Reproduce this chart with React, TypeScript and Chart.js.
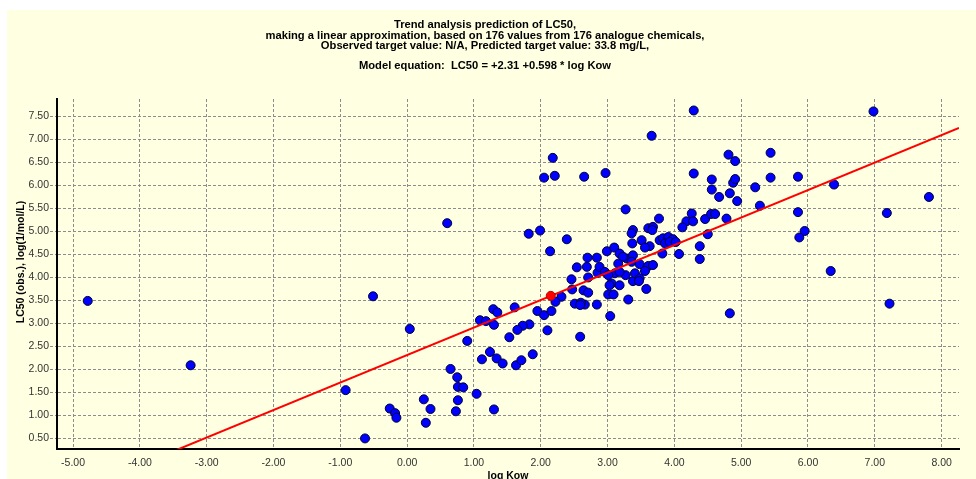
import React, { useEffect, useRef } from "react";
import { Chart, registerables } from "chart.js";

Chart.register(...registerables);

const TITLE_LINES = [
  "Trend analysis prediction of LC50,",
  "making a linear approximation, based on 176 values from 176 analogue chemicals,",
  "Observed target value: N/A, Predicted target value: 33.8 mg/L,",
];
const EQUATION = "Model equation:  LC50 = +2.31 +0.598 * log Kow";
const X_TITLE = "log Kow";
const Y_TITLE = "LC50 (obs.), log(1/mol/L)";

const X_TICKS = [-5, -4, -3, -2, -1, 0, 1, 2, 3, 4, 5, 6, 7, 8];
const Y_TICKS = [0.5, 1, 1.5, 2, 2.5, 3, 3.5, 4, 4.5, 5, 5.5, 6, 6.5, 7, 7.5];
const X_MIN = -5.24;
const X_MAX = 8.26;
const Y_MIN = 0.27;
const Y_MAX = 7.88;

const LOG_KOW = [
  -4.78, -3.24, -0.92, -0.51, -0.63, 0.04, -0.26, -0.18, -0.16, 0.25,
  0.35, 0.28, 0.65, 0.75, 0.76, 0.84, 0.76, 0.73, 0.9, 1.09,
  1.04, 1.12, 0.6, 2.18, 2.05, 2.21, 1.82, 1.99, 2.39, 2.14,
  2.54, 2.46, 2.47, 2.31, 2.22, 2.51, 1.95, 2.05, 2.16, 1.29,
  1.35, 1.61, 1.18, 1.3, 1.83, 1.73, 1.65, 1.53, 2.1, 2.59,
  1.24, 1.34, 1.43, 1.63, 1.71, 1.88, 1.3, 2.65, 2.97, 3.27,
  3.38, 3.37, 2.99, 3.1, 2.7, 2.84, 2.69, 3.18, 3.29, 2.71,
  2.85, 3.06, 3.18, 3.27, 3.38, 2.64, 2.71, 3.01, 3.09, 2.66,
  2.84, 3.31, 2.6, 3.04, 3.66, 4.81, 4.91, 4.29, 4.56, 4.56,
  4.67, 4.83, 4.88, 4.91, 4.94, 5.21, 5.28, 4.26, 4.18, 4.28,
  4.12, 4.46, 4.55, 4.61, 4.78, 3.77, 3.61, 3.68, 3.67, 3.51,
  3.63, 3.78, 3.83, 3.91, 3.98, 3.86, 3.93, 4.02, 3.82, 4.07,
  4.5, 4.38, 4.38, 3.36, 3.38, 3.56, 3.36, 3.48, 3.61, 3.68,
  3.56, 3.41, 3.48, 3.47, 3.58, 4.83, 3.23, 3.16, 3.11, 3.18,
  2.88, 2.96, 3.01, 3.03, 2.59, 4.29, 6.98, 5.44, 5.44, 5.85,
  6.39, 5.85, 7.81, 7.18, 5.95, 5.87, 6.34, 7.22,
];
const LC50_OBS = [
  3.49, 2.09, 1.55, 3.59, 0.5, 2.88, 1.15, 1.05, 0.95, 1.35,
  1.14, 0.84, 2.01, 1.83, 1.62, 1.61, 1.33, 1.09, 2.62, 3.07,
  1.47, 2.22, 5.18, 6.6, 6.17, 6.21, 4.95, 5.02, 4.83, 4.57,
  4.22, 3.96, 3.74, 3.58, 3.47, 3.43, 3.27, 3.18, 3.27, 3.31,
  3.24, 3.35, 3.05, 2.97, 2.98, 2.95, 2.86, 2.7, 2.85, 2.71,
  2.38, 2.24, 2.13, 2.09, 2.2, 2.33, 1.13, 6.19, 6.27, 5.48,
  5.03, 4.74, 4.57, 4.65, 4.43, 4.43, 4.23, 4.52, 4.41, 4.0,
  4.1, 3.87, 3.83, 4.05, 3.92, 3.72, 3.67, 3.63, 3.63, 3.41,
  3.41, 3.52, 3.45, 3.16, 7.08, 6.67, 6.53, 6.26, 6.13, 5.91,
  5.75, 5.83, 6.06, 6.14, 5.66, 5.96, 5.56, 5.39, 5.22, 5.22,
  5.09, 5.27, 5.38, 5.38, 5.28, 5.28, 5.07, 5.1, 5.03, 4.81,
  4.68, 4.81, 4.85, 4.88, 4.83, 4.74, 4.77, 4.77, 4.52, 4.51,
  4.94, 4.68, 4.4, 4.96, 4.48, 4.65, 4.34, 4.29, 4.25, 4.27,
  4.14, 4.09, 3.98, 3.92, 3.75, 3.22, 4.45, 4.3, 4.09, 4.12,
  4.23, 4.12, 4.05, 3.83, 3.4, 7.63, 7.61, 6.71, 6.17, 6.19,
  6.02, 5.42, 5.75, 5.4, 5.01, 4.87, 4.14, 3.43,
];
const TARGET_LOG_KOW = [2.15];
const TARGET_LC50 = [3.6];
const FIT_X = [-5.24, 8.26];
const FIT_Y = [-0.82, 7.25];

const FONT = '"Liberation Sans", Arial, sans-serif';

const decor = {
  id: "decor",
  beforeDraw(chart: any) {
    const { ctx, width, height } = chart;
    ctx.save();
    ctx.fillStyle = "#ffffff";
    ctx.fillRect(0, 0, width, height);
    ctx.fillStyle = "#FFFFE1";
    ctx.fillRect(7, 10, width - 7, height - 10);
    ctx.restore();
  },
  afterDraw(chart: any) {
    const { ctx, chartArea } = chart;
    const cx = (chartArea.left + chartArea.right) / 2;
    ctx.save();
    ctx.fillStyle = "#000";
    ctx.font = `bold 11.2px ${FONT}`;
    ctx.textAlign = "center";
    ctx.textBaseline = "alphabetic";
    const baselines = [27.5, 38.5, 49.3];
    TITLE_LINES.forEach((t, i) => ctx.fillText(t, 485, baselines[i]));
    ctx.fillText(EQUATION, 485, 69);
    ctx.font = `bold 10.5px ${FONT}`;
    ctx.textBaseline = "top";
    ctx.fillText(X_TITLE, cx, 471);
    ctx.translate(21, 262);
    ctx.rotate(-Math.PI / 2);
    ctx.textBaseline = "middle";
    ctx.fillText(Y_TITLE, 0, 0);
    ctx.restore();
  },
};

export default function App() {
  const ref = useRef<HTMLCanvasElement | null>(null);
  useEffect(() => {
    if (!ref.current) return;
    const fmt = (v: any) => Number(v).toFixed(2);
    const chart = new Chart(ref.current, {
      type: "scatter",
      data: {
        datasets: [
          {
            label: "target",
            data: TARGET_LOG_KOW.map((x, i) => ({ x, y: TARGET_LC50[i] })),
            pointRadius: 4.5,
            pointBackgroundColor: "#FF0000",
            pointBorderColor: "#C00000",
            pointBorderWidth: 1,
            order: 0,
          },
          {
            label: "fit",
            type: "line",
            data: FIT_X.map((x, i) => ({ x, y: FIT_Y[i] })),
            borderColor: "#FF0000",
            borderWidth: 2,
            pointRadius: 0,
            fill: false,
            order: 1,
          },
          {
            label: "obs",
            data: LOG_KOW.map((x, i) => ({ x, y: LC50_OBS[i] })),
            pointRadius: 4.5,
            pointBackgroundColor: "#0000FF",
            pointBorderColor: "#000033",
            pointBorderWidth: 1,
            order: 2,
          },
        ],
      },
      options: {
        animation: false,
        responsive: false,
        events: [],
        layout: { padding: { top: 99, right: 17, left: 0, bottom: 0 } },
        plugins: { legend: { display: false }, tooltip: { enabled: false }, title: { display: false } },
        scales: {
          x: {
            type: "linear",
            min: X_MIN,
            max: X_MAX,
            afterBuildTicks: (s: any) => {
              s.ticks = X_TICKS.map((v) => ({ value: v }));
            },
            afterFit: (s: any) => {
              s.height = 30;
            },
            ticks: {
              callback: fmt,
              font: { family: FONT, size: 10.5 },
              color: "#333333",
              padding: 8,
              maxRotation: 0,
              autoSkip: false,
            },
            grid: {
              color: "#8c8c8c",
              lineWidth: 1,
              drawTicks: false,
            },
            border: { display: true, color: "#000000", width: 2, dash: [3, 2] },
          },
          y: {
            type: "linear",
            min: Y_MIN,
            max: Y_MAX,
            afterBuildTicks: (s: any) => {
              s.ticks = Y_TICKS.map((v) => ({ value: v }));
            },
            afterFit: (s: any) => {
              s.width = 57;
            },
            ticks: {
              callback: fmt,
              font: { family: FONT, size: 10.5 },
              color: "#333333",
              padding: 1,
              autoSkip: false,
            },
            grid: {
              color: "#8c8c8c",
              lineWidth: 1,
              drawTicks: true,
              tickLength: 7,
              tickBorderDash: [3, 2],
            },
            border: { display: true, color: "#000000", width: 2, dash: [3, 2] },
          },
        },
      },
      plugins: [decor],
    });
    return () => chart.destroy();
  }, []);
  return (
    <div style={{ position: "absolute", left: 0, top: 0, width: 976, height: 479 }}>
      <canvas ref={ref} width={976} height={479} style={{ display: "block" }} />
    </div>
  );
}
